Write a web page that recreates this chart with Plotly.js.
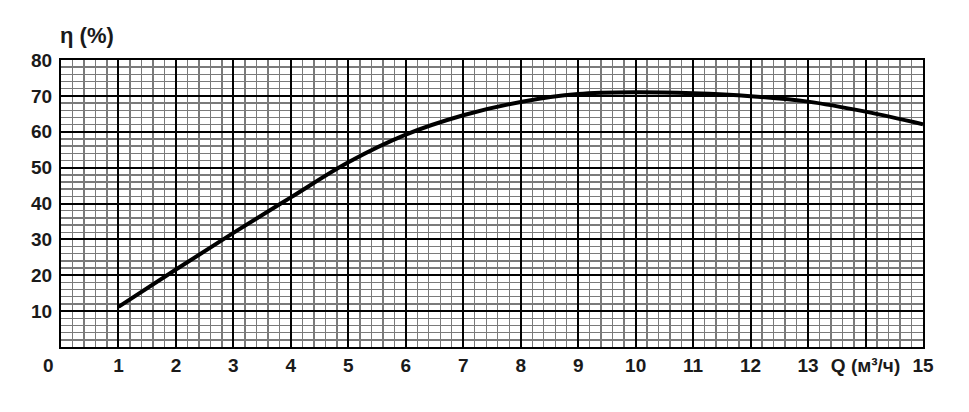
<!DOCTYPE html>
<html><head><meta charset="utf-8">
<script src="https://cdn.plot.ly/plotly-3.0.1.min.js"></script>
<style>body{margin:0;background:#fff}#c{width:969px;height:412px}</style>
</head><body><div id="c"></div>
<script>
const flowQ = [1,2,3,4,5,6,7,8,9,10,11,12,13,14,15];
const efficiency = [11.2,21.6,31.8,41.7,51.5,59.2,64.6,68.3,70.5,71.0,70.7,69.9,68.4,65.6,62.1];
const xTickVals = [1,2,3,4,5,6,7,8,9,10,11,12,13,14,15];
const xTickText = ['1','2','3','4','5','6','7','8','9','10','11','12','13','Q (м³/ч)','15'];
const yTickVals = [10,20,30,40,50,60,70,80];
const yTickText = ['10','20','30','40','50','60','70','80'];

const font = {family:'Liberation Sans, Arial, sans-serif', size:19, color:'#1a1a1a', weight:'bold'};
const trace = {x:flowQ, y:efficiency, type:'scatter', mode:'lines', line:{color:'#000', width:4, shape:'spline'}, hoverinfo:'skip'};
const layout = {
  width:969, height:412,
  margin:{l:61, r:46, t:60, b:65},
  paper_bgcolor:'#fff', plot_bgcolor:'#fff',
  showlegend:false, font:font,
  xaxis:{range:[0,15], tickmode:'array', tickvals:xTickVals, ticktext:xTickText,
    showgrid:true, gridcolor:'#000', gridwidth:2,
    minor:{dtick:0.2, showgrid:true, gridcolor:'#7a7a7a', gridwidth:1.4},
    showline:true, linecolor:'#000', linewidth:2, mirror:true, zeroline:false,
    ticks:'', ticklabelstandoff:0, tickfont:font, fixedrange:true},
  yaxis:{range:[0,80], tickmode:'array', tickvals:yTickVals, ticktext:yTickText,
    showgrid:true, gridcolor:'#000', gridwidth:2,
    minor:{dtick:2, showgrid:true, gridcolor:'#7a7a7a', gridwidth:1.4},
    showline:true, linecolor:'#000', linewidth:2, mirror:true, zeroline:false,
    ticks:'', ticklabelstandoff:3, tickfont:font, fixedrange:true},
  annotations:[
    {text:'η (%)', xref:'paper', yref:'paper', x:-0.003, y:1.0, xanchor:'left', yanchor:'bottom', yshift:10, showarrow:false, font:{family:font.family, size:22, color:'#1a1a1a', weight:'bold'}},
    {text:'0', xref:'paper', yref:'paper', x:0, y:0, xanchor:'center', yanchor:'top', xshift:-13, yshift:-6, showarrow:false, font:font}
  ]
};
Plotly.newPlot('c', [trace], layout, {displayModeBar:false, staticPlot:true});
</script></body></html>
